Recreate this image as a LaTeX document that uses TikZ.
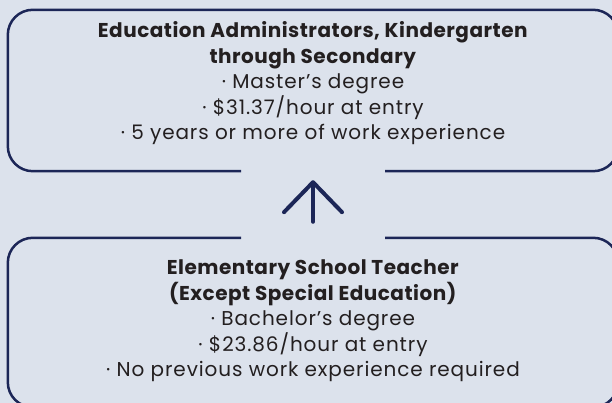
\documentclass[tikz,border=0pt]{standalone}
\usepackage{fontspec}
\setmainfont{Poppins}[LetterSpace=4.5, BoldFeatures={LetterSpace=2.5}]
\usetikzlibrary{arrows.meta,calc}
\definecolor{bgcol}{HTML}{DCE2EC}
\definecolor{navy}{HTML}{1C2657}
\definecolor{ink}{HTML}{231F20}
\tikzset{
  boxline/.style={draw=navy, line width=2.5pt, rounded corners=25pt},
  arrowline/.style={draw=navy, line width=4pt, line cap=round,
    -{Straight Barb[length=30pt,width=58pt,round]}},
  frame/.style={draw=none, inner sep=0pt, minimum width=610pt},
  txt/.style={text=ink, align=center, inner sep=0pt,
    font=\fontsize{20}{25.5}\selectfont}
}
\begin{document}
\begin{tikzpicture}[x=1pt,y=1pt]
  \fill[bgcol] (0,0) rectangle (612,403);
  \useasboundingbox (0,0) rectangle (612,403);
  \node[frame, minimum height=161pt] (topbox) at (313,312.5) {};
  \node[frame, minimum height=169pt] (botbox) at (313,80.5) {};
  \node[txt] (toptext) at (313,319.5) {\textbf{Education Administrators, Kindergarten}\\
    \textbf{through Secondary}\\
    · Master’s degree\\
    · \$31.37/hour at entry\\
    · 5 years or more of work experience};
  \node[txt] (bottext) at (313,82) {\textbf{Elementary School Teacher}\\
    \textbf{(Except Special Education)}\\
    · Bachelor’s degree\\
    · \$23.86/hour at entry\\
    · No previous work experience required};
  \draw[boxline] ($(topbox.south)+(-72,0)$) -- (topbox.south west) -- (topbox.north west)
    -- (topbox.north east) -- (topbox.south east) -- ($(topbox.south)+(72,0)$);
  \draw[boxline] ($(botbox.north)+(-72,0)$) -- (botbox.north west) -- (botbox.south west)
    -- (botbox.south east) -- (botbox.north east) -- ($(botbox.north)+(72,0)$);
  \draw[arrowline, shorten <=16pt, shorten >=9pt] (botbox.north) -- (topbox.south);
\end{tikzpicture}
\end{document}
